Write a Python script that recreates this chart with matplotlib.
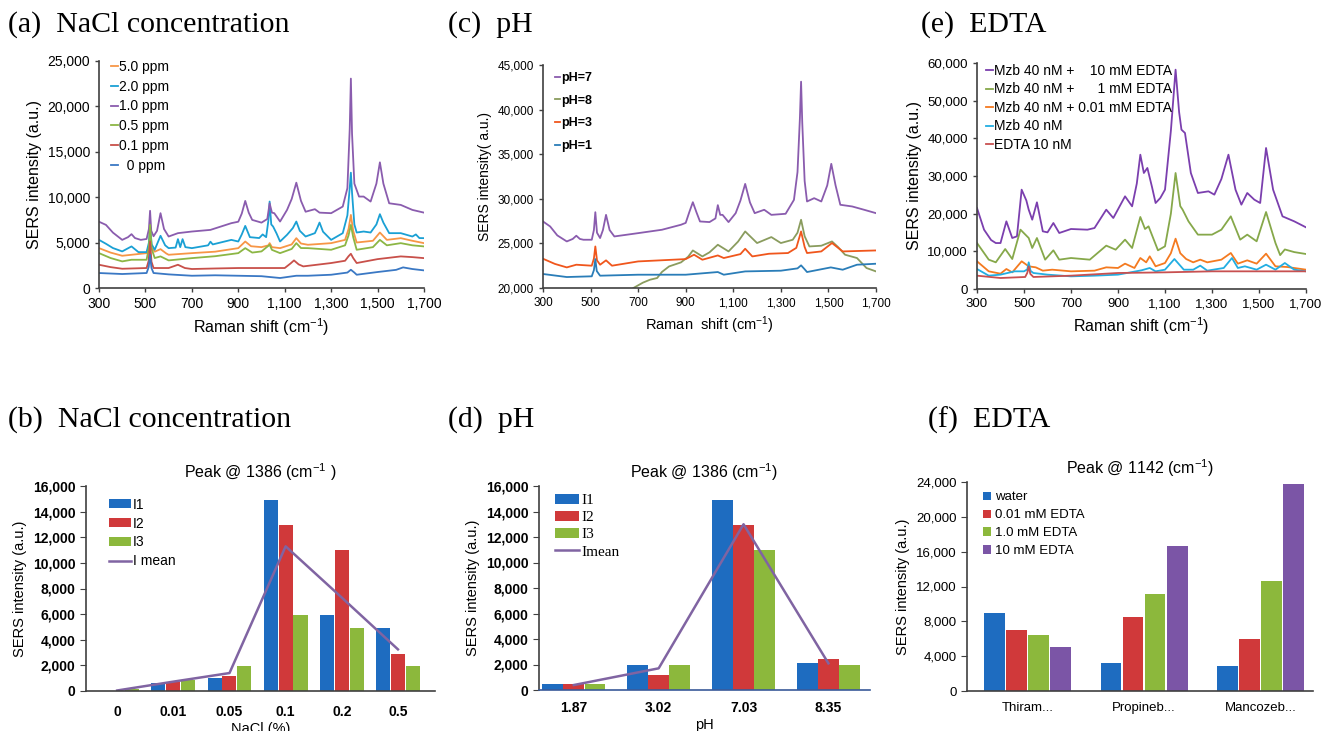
import matplotlib
matplotlib.use("Agg")
import matplotlib.pyplot as plt
import numpy as np
from matplotlib.ticker import FuncFormatter

plt.rcParams['font.family'] = ['Liberation Sans', 'DejaVu Sans']
plt.rcParams['mathtext.fontset'] = 'custom'
plt.rcParams['mathtext.rm'] = 'Liberation Sans'
plt.rcParams['mathtext.it'] = 'Liberation Sans:italic'
plt.rcParams['mathtext.bf'] = 'Liberation Sans:bold'

# ---- (a) NaCl spectra: (shift, intensity)
a_5ppm = [(300, 4390), (350, 3900), (400, 3550), (440, 3660), (505, 3840), (515, 4600), (520, 5800), (527, 4400),
          (540, 4000), (565, 4280), (590, 3800), (600, 3660), (700, 3840), (800, 4000), (900, 4390), (930, 5120),
          (955, 4600), (1000, 4500), (1030, 4700), (1035, 4940), (1045, 4500), (1080, 4390), (1130, 4800),
          (1150, 5490), (1170, 4900), (1200, 4760), (1300, 4940), (1360, 5300), (1375, 6500), (1385, 8050),
          (1395, 6300), (1410, 5010), (1480, 5200), (1510, 6110), (1540, 5300), (1600, 5490), (1650, 5200),
          (1700, 4940)]
a_2ppm = [(300, 5300), (330, 4870), (360, 4400), (400, 4030), (440, 4580), (470, 3950), (505, 3950), (515, 5000),
          (520, 6770), (527, 4800), (540, 4210), (565, 5750), (585, 4700), (600, 4390), (630, 4450), (640, 5380),
          (650, 4500), (660, 5380), (672, 4500), (700, 4390), (770, 4700), (780, 5100), (790, 4800), (870, 5300),
          (900, 5120), (915, 5900), (930, 6840), (950, 5600), (990, 5500), (1005, 5900), (1020, 5600), (1030, 7500),
          (1035, 9520), (1042, 7000), (1050, 6770), (1065, 6000), (1080, 5120), (1110, 5860), (1135, 6600),
          (1150, 7320), (1165, 6300), (1190, 5670), (1230, 6040), (1240, 6600), (1250, 7210), (1265, 6200),
          (1300, 5300), (1350, 6040), (1370, 8000), (1380, 11000), (1385, 12700), (1390, 10500), (1400, 7000),
          (1410, 6110), (1440, 6220), (1470, 6110), (1495, 7000), (1510, 8130), (1525, 7200), (1550, 6040),
          (1600, 6040), (1650, 5670), (1665, 5900), (1680, 5500), (1700, 5490)]
a_1ppm = [(300, 7300), (330, 6950), (360, 6100), (400, 5300), (425, 5600), (440, 5930), (455, 5500), (480, 5300),
          (505, 5400), (515, 6500), (520, 8500), (525, 6300), (535, 5700), (550, 6300), (565, 8240), (580, 6500),
          (600, 5670), (640, 6040), (700, 6220), (780, 6400), (870, 7140), (900, 7300), (915, 8200), (930, 9590),
          (945, 8300), (960, 7500), (1000, 7200), (1025, 7600), (1035, 9330), (1045, 8300), (1055, 8240),
          (1080, 7320), (1110, 8600), (1130, 9800), (1150, 11600), (1170, 9600), (1190, 8400), (1230, 8680),
          (1250, 8300), (1300, 8240), (1350, 8970), (1370, 11000), (1380, 17500), (1385, 23060), (1390, 17000),
          (1400, 11500), (1420, 10070), (1440, 10070), (1470, 9520), (1495, 11500), (1510, 13840), (1525, 11500),
          (1550, 9330), (1600, 9150), (1650, 8600), (1700, 8300)]
a_05ppm = [(300, 3840), (350, 3300), (400, 2930), (440, 3110), (505, 3110), (515, 4500), (520, 6950), (527, 4300),
           (540, 3300), (565, 3480), (600, 3040), (700, 3290), (800, 3500), (900, 3840), (930, 4390), (960, 3900),
           (1000, 4030), (1035, 4760), (1045, 4200), (1080, 3840), (1130, 4300), (1150, 4940), (1170, 4400),
           (1200, 4390), (1300, 4210), (1360, 4700), (1375, 5800), (1385, 6950), (1395, 5600), (1410, 4210),
           (1480, 4500), (1510, 5300), (1540, 4700), (1600, 4940), (1650, 4700), (1700, 4580)]
a_01ppm = [(300, 2560), (350, 2300), (400, 2120), (505, 2200), (514, 3000), (520, 5120), (526, 2900), (535, 2200),
           (600, 2200), (640, 2560), (670, 2200), (700, 2090), (800, 2150), (900, 2200), (1000, 2200), (1100, 2200),
           (1125, 2700), (1140, 3040), (1160, 2600), (1180, 2380), (1300, 2750), (1360, 3000), (1375, 3500),
           (1385, 3770), (1395, 3300), (1410, 2750), (1500, 3180), (1600, 3480), (1650, 3400), (1700, 3290)]
a_0ppm = [(300, 1650), (400, 1540), (505, 1650), (514, 2300), (520, 3660), (526, 2200), (535, 1650), (600, 1500),
          (700, 1350), (800, 1400), (900, 1350), (1000, 1300), (1080, 1100), (1150, 1350), (1200, 1350),
          (1300, 1460), (1370, 1700), (1385, 2010), (1400, 1700), (1410, 1460), (1500, 1760), (1580, 2000),
          (1610, 2270), (1650, 2090), (1700, 1940)]
a_labels = ["5.0 ppm", "2.0 ppm", "1.0 ppm", "0.5 ppm", "0.1 ppm", "  0 ppm"]

# ---- (c) pH spectra
c_ph7 = [(300, 27460), (330, 26900), (360, 25900), (400, 25220), (425, 25500), (440, 25860), (455, 25500),
         (470, 25410), (505, 25410), (514, 26500), (520, 28500), (527, 26200), (540, 25600), (552, 26500),
         (565, 28200), (580, 26500), (600, 25780), (700, 26150), (800, 26530), (880, 27090), (900, 27300),
         (915, 28500), (930, 29620), (945, 28500), (960, 27460), (1000, 27390), (1025, 27800), (1035, 29290),
         (1045, 28200), (1055, 28200), (1080, 27390), (1110, 28390), (1130, 29800), (1150, 31670), (1170, 29600),
         (1190, 28390), (1230, 28770), (1260, 28200), (1320, 28320), (1355, 29880), (1370, 33000), (1380, 39000),
         (1385, 43130), (1390, 38500), (1400, 32000), (1410, 29700), (1440, 30070), (1470, 29700), (1495, 31500),
         (1512, 33920), (1530, 31500), (1550, 29330), (1600, 29140), (1650, 28770), (1700, 28390)]
c_ph8 = [(650, 19300), (680, 20000), (720, 20600), (750, 20930), (780, 21120), (800, 21800), (830, 22420),
         (880, 22870), (910, 23500), (930, 24210), (970, 23540), (1000, 24000), (1035, 24850), (1080, 24100),
         (1120, 25200), (1150, 26340), (1200, 25040), (1260, 25710), (1300, 25040), (1350, 25410), (1370, 26200),
         (1385, 27650), (1400, 25800), (1420, 24660), (1470, 24740), (1515, 25220), (1540, 24600), (1570, 23730),
         (1620, 23360), (1660, 22240), (1700, 21860)]
c_ph3 = [(300, 23280), (350, 22700), (400, 22310), (440, 22610), (505, 22500), (514, 23300), (520, 24660),
         (527, 23100), (540, 22610), (565, 23100), (590, 22500), (700, 22980), (900, 23240), (935, 23730),
         (970, 23170), (1035, 23650), (1060, 23360), (1130, 23800), (1150, 24400), (1180, 23540), (1250, 23840),
         (1330, 23920), (1365, 24500), (1385, 26340), (1400, 24600), (1410, 23920), (1470, 24100), (1515, 25040),
         (1560, 24100), (1700, 24210)]
c_ph1 = [(300, 21570), (400, 21230), (505, 21310), (514, 22000), (520, 23240), (526, 21900), (540, 21380),
         (700, 21490), (900, 21490), (1035, 21790), (1060, 21490), (1150, 21860), (1300, 21940), (1370, 22200),
         (1385, 22540), (1400, 22100), (1410, 21790), (1510, 22310), (1560, 22050), (1620, 22610), (1700, 22720)]
c_labels = ["pH=7", "pH=8", "pH=3", "pH=1"]

# ---- (e) EDTA spectra
e_10mm = [(300, 21500), (330, 15750), (360, 13000), (380, 12200), (400, 12200), (425, 17960), (450, 13540),
          (470, 13980), (490, 26370), (510, 23500), (520, 21060), (535, 18400), (555, 23010), (580, 15310),
          (600, 15040), (625, 17520), (650, 14870), (700, 15930), (770, 15750), (800, 16190), (850, 21060),
          (880, 18850), (930, 24600), (960, 21950), (980, 28000), (995, 35660), (1010, 30800), (1025, 32130),
          (1045, 27000), (1060, 22830), (1080, 24160), (1100, 26370), (1125, 42000), (1145, 58230), (1160, 47000),
          (1170, 42300), (1185, 41420), (1210, 30800), (1240, 25490), (1285, 25930), (1310, 25050), (1340, 29210),
          (1370, 35660), (1400, 26370), (1425, 22390), (1450, 25490), (1480, 23720), (1505, 22830), (1530, 37440),
          (1560, 26370), (1600, 19290), (1650, 17960), (1700, 16370)]
e_1mm = [(300, 12210), (350, 7790), (380, 7080), (420, 10620), (450, 7960), (485, 15750), (520, 13540),
         (535, 10890), (555, 13540), (590, 7790), (625, 10270), (650, 7790), (700, 8230), (780, 7790), (850, 11510),
         (890, 10440), (930, 13100), (960, 10890), (995, 19120), (1015, 15930), (1030, 16640), (1070, 10270),
         (1100, 11330), (1125, 20000), (1145, 30800), (1165, 22000), (1175, 21060), (1200, 17960), (1240, 14430),
         (1300, 14430), (1340, 15750), (1380, 19290), (1420, 13100), (1450, 14430), (1490, 12660), (1530, 20440),
         (1570, 12210), (1590, 9000), (1610, 10500), (1650, 9800), (1700, 9290)]
e_001mm = [(300, 7350), (350, 4690), (400, 4070), (425, 5310), (450, 4420), (490, 7350), (520, 6020), (550, 5750),
           (580, 4870), (620, 5130), (700, 4690), (800, 4870), (850, 5750), (900, 5580), (930, 6730), (970, 5580),
           (995, 8230), (1020, 7080), (1035, 8670), (1060, 6020), (1100, 6900), (1125, 9500), (1145, 13360),
           (1165, 9500), (1190, 7960), (1220, 7080), (1250, 7790), (1280, 7080), (1340, 7790), (1380, 9560),
           (1410, 6730), (1450, 7610), (1490, 6730), (1530, 9380), (1570, 6020), (1620, 5840), (1700, 5130)]
e_mzb = [(300, 5310), (350, 3540), (400, 3810), (460, 4690), (500, 4690), (514, 5200), (520, 7080), (528, 4800),
         (540, 4250), (600, 3810), (700, 3360), (800, 3540), (900, 3810), (1000, 4960), (1035, 5580), (1060, 4690),
         (1100, 5130), (1140, 7960), (1180, 5130), (1220, 5130), (1250, 6200), (1280, 4870), (1350, 5580),
         (1385, 8230), (1410, 5580), (1440, 6020), (1490, 5130), (1530, 6460), (1570, 5130), (1610, 6900),
         (1650, 5130), (1700, 4690)]
e_edta = [(300, 3540), (400, 2920), (505, 3190), (514, 4300), (520, 6020), (527, 4000), (540, 3190), (700, 3540),
          (900, 4250), (1100, 4420), (1300, 4690), (1500, 4690), (1700, 4690)]
e_labels = ["Mzb 40 nM +    10 mM EDTA", "Mzb 40 nM +      1 mM EDTA", "Mzb 40 nM + 0.01 mM EDTA",
            "Mzb 40 nM", "EDTA 10 nM"]

# ---- (b) NaCl bars
b_cats = ["0", "0.01", "0.05", "0.1", "0.2", "0.5"]
b_i1 = [0, 650, 1040, 14930, 5960, 4940]
b_i2 = [0, 700, 1140, 12930, 10970, 2910]
b_i3 = [180, 830, 1920, 5960, 4940, 1920]
b_mean = [40, 730, 1400, 11290, 7290, 3250]

# ---- (d) pH bars
d_cats = ["1.87", "3.02", "7.03", "8.35"]
d_i1 = [440, 1960, 14930, 2140]
d_i2 = [440, 1170, 12970, 2400]
d_i3 = [440, 1960, 11010, 1960]
d_mean = [390, 1700, 13000, 2090]

# ---- (f) EDTA bars
f_cats = ["Thiram...", "Propineb...", "Mancozeb..."]
f_water = [8960, 3250, 2870]
f_001 = [7040, 8500, 6010]
f_10 = [6470, 11180, 12630]
f_100 = [5050, 16610, 23730]
f_labels = ["water", "0.01 mM EDTA", "1.0 mM EDTA", "10 mM EDTA"]

W, H = 1324, 731
fig = plt.figure(figsize=(W / 100, H / 100), dpi=100)
comma = FuncFormatter(lambda v, p: f"{int(round(v)):,}")


def ax_at(l, t, r, b):
    return fig.add_axes([l / W, 1 - b / H, (r - l) / W, (b - t) / H])


def tidy(ax, spine_col="#404040"):
    for s in ["top", "right"]:
        ax.spines[s].set_visible(False)
    for s in ["left", "bottom"]:
        ax.spines[s].set_color(spine_col)
        ax.spines[s].set_linewidth(1.2)
    ax.yaxis.set_major_formatter(comma)


def spectra(ax, series, colors, ylim, yticks, fs):
    for s, c in zip(series, colors):
        x, y = zip(*s)
        ax.plot(x, y, color=c, lw=1.3)
    ax.set_xlim(300, 1700)
    ax.set_ylim(*ylim)
    ax.set_xticks(np.arange(300, 1701, 200))
    ax.set_yticks(yticks)
    ax.xaxis.set_major_formatter(comma)
    tidy(ax)
    ax.tick_params(labelsize=fs, length=3, width=1, color="#404040")


def panel_label(x, y, s):
    fig.text(x / W, 1 - y / H, s, family="Liberation Serif", fontsize=21.5, va="center", ha="left")


def bar_legend(ax, **kw):
    # bars first, then the mean line, as in the original legend
    h, l = ax.get_legend_handles_labels()
    h = h[1:] + h[:1]
    l = l[1:] + l[:1]
    ax.legend(h, l, **kw)


# (a)
ax = ax_at(99, 61, 424, 288)
cols_a = ["#f79646", "#1aa0d4", "#8a5cae", "#8cb644", "#c8504a", "#3a78c4"]
spectra(ax, [a_5ppm, a_2ppm, a_1ppm, a_05ppm, a_01ppm, a_0ppm], cols_a, (0, 25000),
        np.arange(0, 25001, 5000), 10)
ax.set_ylabel("SERS intensity (a.u.)", fontsize=11.5)
ax.set_xlabel("Raman shift (cm$^{-1}$)", fontsize=11.5)
ax.legend(a_labels, loc="upper left", bbox_to_anchor=(0.02, 1.03), frameon=False, fontsize=10,
          handlelength=0.5, handletextpad=0.1, labelspacing=0.42, borderaxespad=0)
panel_label(8, 25, "(a)  NaCl concentration")

# (c)
ax = ax_at(543, 65, 876, 288)
cols_c = ["#8a5cae", "#8a9c5e", "#f0561c", "#2a7db8"]
spectra(ax, [c_ph7, c_ph8, c_ph3, c_ph1], cols_c, (20000, 45000), np.arange(20000, 45001, 5000), 8.5)
ax.set_ylabel("SERS intensity( a.u.)", fontsize=10)
ax.set_xlabel("Raman  shift (cm$^{-1}$)", fontsize=10.5)
ax.legend(c_labels, loc="upper left", bbox_to_anchor=(0.02, 0.99), frameon=False,
          prop={"weight": "bold", "size": 9}, handlelength=0.4, handletextpad=0.1, labelspacing=0.85,
          borderaxespad=0)
panel_label(448, 25, "(c)  pH")

# (e)
ax = ax_at(977, 63, 1306, 289)
cols_e = ["#7b3fae", "#86a84a", "#f47a20", "#22aee2", "#c85050"]
spectra(ax, [e_10mm, e_1mm, e_001mm, e_mzb, e_edta], cols_e, (0, 60000), np.arange(0, 60001, 10000), 9.5)
ax.set_ylabel("SERS intensity (a.u.)", fontsize=11.5)
ax.set_xlabel("Raman shift (cm$^{-1}$)", fontsize=11.5)
ax.legend(e_labels, loc="upper left", bbox_to_anchor=(0.01, 1.02), frameon=False, fontsize=10,
          handlelength=0.5, handletextpad=0.1, labelspacing=0.32, borderaxespad=0)
panel_label(921, 25, "(e)  EDTA")

bar_cols = ["#1e6cc0", "#d0393a", "#8cb83c", "#7b55a6"]
line_col = "#8064a2"

# (b)
ax = ax_at(86, 486, 435, 691)
x = np.arange(len(b_cats))
for k, vals in enumerate([b_i1, b_i2, b_i3]):
    ax.bar(x + (k - 1) * 0.265, vals, width=0.25, color=bar_cols[k], label=f"I{k + 1}")
ax.plot(x, b_mean, color=line_col, lw=1.8, label="I mean")
ax.set_xlim(-0.555, 5.66)
ax.set_ylim(0, 16000)
ax.set_yticks(np.arange(0, 16001, 2000))
ax.set_xticks(x)
ax.set_xticklabels(b_cats)
tidy(ax)
ax.tick_params(axis="y", labelsize=10, length=4, color="#404040")
ax.tick_params(axis="x", labelsize=10, length=0, pad=10)
for t in ax.get_xticklabels() + ax.get_yticklabels():
    t.set_fontweight("bold")
ax.set_ylabel("SERS intensity (a.u.)", fontsize=10.5)
ax.set_xlabel("NaCl (%)", fontsize=10.5, labelpad=2)
ax.set_title("Peak @ 1386 (cm$^{-1}$ )", fontsize=11.5, pad=6)
bar_legend(ax, loc="upper left", bbox_to_anchor=(0.05, 0.97), frameon=False, fontsize=10,
           handlelength=1.6, handleheight=0.6, handletextpad=0.1, labelspacing=0.35, borderaxespad=0)
panel_label(8, 420, "(b)  NaCl concentration")

# (d)
ax = ax_at(539, 486, 870, 690)
x = np.arange(len(d_cats))
for k, vals in enumerate([d_i1, d_i2, d_i3]):
    ax.bar(x + (k - 1) * 0.25, vals, width=0.245, color=bar_cols[k], label=f"I{k + 1}")
ax.plot(x, d_mean, color=line_col, lw=1.8, label="Imean")
ax.set_xlim(-0.41, 3.49)
ax.set_ylim(0, 16000)
ax.set_yticks(np.arange(0, 16001, 2000))
ax.set_xticks(x)
ax.set_xticklabels(d_cats)
tidy(ax)
ax.spines["bottom"].set_color("#3a5a9a")
ax.tick_params(axis="y", labelsize=10, length=4, color="#404040")
ax.tick_params(axis="x", labelsize=10, length=0, pad=8)
for t in ax.get_xticklabels() + ax.get_yticklabels():
    t.set_fontweight("bold")
ax.set_ylabel("SERS intensity (a.u.)", fontsize=10.5)
ax.set_xlabel("pH", fontsize=10.5, labelpad=2)
ax.set_title("Peak @ 1386 (cm$^{-1}$)", fontsize=11.5, pad=6)
bar_legend(ax, loc="upper left", bbox_to_anchor=(0.03, 0.99), frameon=False,
           prop={"family": "Liberation Serif", "size": 11},
           handlelength=1.6, handleheight=0.6, handletextpad=0.1, labelspacing=0.25, borderaxespad=0)
panel_label(448, 420, "(d)  pH")

# (f)
ax = ax_at(967, 482, 1313, 691)
x = np.arange(len(f_cats))
for k, vals in enumerate([f_water, f_001, f_10, f_100]):
    ax.bar(x + (k - 1.5) * 0.19, vals, width=0.177, color=bar_cols[k], label=f_labels[k])
ax.set_xlim(-0.52, 2.45)
ax.set_ylim(0, 24000)
ax.set_yticks(np.arange(0, 24001, 4000))
ax.set_xticks(x)
ax.set_xticklabels(f_cats)
tidy(ax)
ax.tick_params(axis="y", labelsize=9.5, length=4, color="#404040")
ax.tick_params(axis="x", labelsize=9.5, length=0, pad=8)
ax.set_ylabel("SERS intensity (a.u.)", fontsize=10.5)
ax.set_title("Peak @ 1142 (cm$^{-1}$)", fontsize=11.5, pad=6)
ax.legend(loc="upper left", bbox_to_anchor=(0.03, 0.98), frameon=False, fontsize=9.5,
          handlelength=0.6, handleheight=0.6, handletextpad=0.3, labelspacing=0.45, borderaxespad=0)
panel_label(928, 420, "(f)  EDTA")

fig.savefig("out.png", dpi=100)
